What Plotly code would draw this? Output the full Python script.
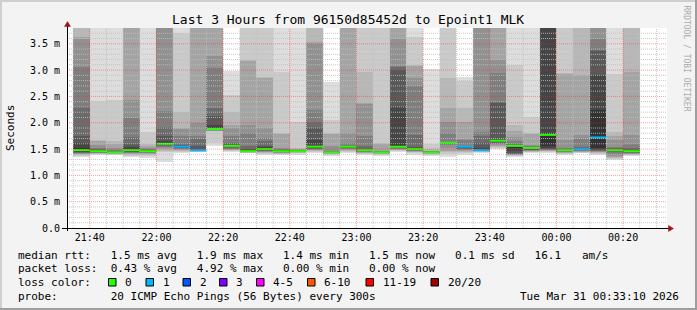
import plotly.graph_objects as go
from datetime import datetime, timedelta

# ---------------- data ----------------
title_text = "Last 3 Hours from 96150d85452d to Epoint1 MLK"
first_interval = "2026-03-30 21:35:00"   # start of first 5-minute interval
step_seconds = 300
view_start = "2026-03-30 21:33:10"
view_end = "2026-03-31 00:33:10"

median_rtt = [1.48, 1.46, 1.44, 1.48, 1.46, 1.60, 1.545, 1.48, 1.88, 1.56,
              1.46, 1.50, 1.46, 1.46, 1.545, 1.44, 1.545, 1.48, 1.44, 1.545,
              1.50, 1.44, 1.62, 1.545, 1.48, 1.66, 1.56, 1.52, 1.77, 1.48,
              1.50, 1.72, 1.48, 1.46]
loss_count = [0, 0, 0, 0, 0, 0, 1, 1, 0, 0,
              0, 0, 0, 0, 0, 0, 0, 0, 0, 0,
              0, 0, 0, 1, 1, 0, 0, 0, 0, 0,
              1, 1, 0, 0]

# upper smoke edges: sorted pings p20 .. p11 (ms)
smoke_upper = [
    [3.9, 3.9, 3.9, 3.62, 3.60, 3.06, 2.29, 1.75, 1.62, 1.52],
    [3.9, 2.42, 1.67, 1.66, 1.58, 1.52, 1.50, 1.49, 1.48, 1.47],
    [3.9, 2.43, 1.65, 1.60, 1.52, 1.49, 1.47, 1.46, 1.45, 1.445],
    [3.9, 3.9, 3.9, 3.9, 2.43, 2.09, 1.73, 1.60, 1.53, 1.50],
    [3.9, 1.82, 1.60, 1.55, 1.52, 1.50, 1.49, 1.48, 1.47, 1.465],
    [3.9, 3.9, 3.9, 3.9, 3.9, 2.22, 1.92, 1.75, 1.65, 1.62],
    [3.9, 3.7, 2.21, 1.90, 1.88, 1.75, 1.60, 1.57, 1.56, 1.55],
    [3.9, 3.9, 3.9, 3.9, 2.00, 1.75, 1.70, 1.55, 1.51, 1.49],
    [3.9, 3.9, 3.9, 3.9, 3.27, 3.04, 2.28, 2.12, 1.96, 1.90],
    [2.99, 2.53, 2.20, 1.95, 1.90, 1.75, 1.62, 1.60, 1.58, 1.565],
    [3.9, 3.9, 3.20, 3.18, 1.96, 1.80, 1.56, 1.50, 1.48, 1.47],
    [3.9, 3.9, 2.87, 2.85, 1.90, 1.71, 1.65, 1.56, 1.53, 1.51],
    [3.9, 2.97, 1.80, 1.78, 1.52, 1.50, 1.49, 1.48, 1.47, 1.465],
    [3.9, 2.02, 1.52, 1.50, 1.49, 1.48, 1.475, 1.47, 1.465, 1.462],
    [3.9, 3.9, 3.9, 3.53, 3.50, 2.24, 2.02, 1.90, 1.67, 1.56],
    [2.78, 2.05, 1.80, 1.78, 1.55, 1.47, 1.455, 1.45, 1.445, 1.442],
    [3.9, 3.9, 3.9, 3.9, 1.80, 1.62, 1.58, 1.565, 1.555, 1.55],
    [3.9, 3.9, 2.97, 2.37, 2.35, 1.75, 1.55, 1.51, 1.495, 1.485],
    [3.9, 3.9, 1.61, 1.59, 1.47, 1.46, 1.455, 1.45, 1.445, 1.442],
    [3.9, 3.9, 3.9, 3.9, 3.60, 3.07, 3.05, 3.00, 2.30, 1.60],
    [3.9, 3.63, 3.10, 3.08, 2.85, 2.70, 1.77, 1.545, 1.52, 1.51],
    [3.03, 1.60, 1.50, 1.47, 1.46, 1.455, 1.45, 1.447, 1.445, 1.442],
    [3.9, 3.9, 2.85, 2.28, 2.02, 1.80, 1.64, 1.63, 1.625, 1.622],
    [2.87, 2.80, 2.28, 2.02, 1.70, 1.67, 1.56, 1.555, 1.55, 1.548],
    [3.9, 3.9, 3.9, 3.9, 3.9, 1.83, 1.75, 1.61, 1.52, 1.50],
    [3.9, 3.9, 3.9, 3.9, 3.19, 2.95, 2.40, 2.38, 1.70, 1.67],
    [3.9, 3.10, 1.96, 1.85, 1.72, 1.65, 1.60, 1.58, 1.57, 1.565],
    [3.9, 2.11, 1.80, 1.78, 1.57, 1.55, 1.54, 1.53, 1.525, 1.522],
    [3.9, 3.9, 3.9, 3.9, 3.9, 3.9, 3.9, 3.9, 3.9, 1.80],
    [3.9, 3.9, 2.94, 2.92, 1.67, 1.52, 1.50, 1.49, 1.485, 1.482],
    [3.9, 3.9, 3.9, 2.90, 1.77, 1.70, 1.545, 1.52, 1.51, 1.505],
    [3.9, 3.9, 3.9, 3.9, 3.9, 3.60, 3.38, 3.37, 2.90, 2.24],
    [3.9, 2.92, 1.83, 1.75, 1.67, 1.545, 1.52, 1.50, 1.49, 1.485],
    [3.9, 3.9, 3.9, 2.97, 1.77, 1.60, 1.52, 1.49, 1.47, 1.465],
]
# lower smoke edges: sorted pings p1 .. p10 (ms)
smoke_lower = [
    [1.34, 1.36, 1.38, 1.40, 1.41, 1.42, 1.43, 1.44, 1.45, 1.46],
    [1.39, 1.40, 1.41, 1.42, 1.43, 1.43, 1.44, 1.44, 1.45, 1.45],
    [1.38, 1.39, 1.40, 1.41, 1.42, 1.42, 1.43, 1.43, 1.44, 1.44],
    [1.34, 1.36, 1.38, 1.40, 1.42, 1.43, 1.44, 1.45, 1.46, 1.47],
    [1.33, 1.36, 1.39, 1.41, 1.42, 1.43, 1.44, 1.45, 1.45, 1.46],
    [1.26, 1.44, 1.47, 1.50, 1.52, 1.54, 1.56, 1.57, 1.58, 1.59],
    [1.42, 1.44, 1.46, 1.48, 1.50, 1.51, 1.52, 1.53, 1.535, 1.54],
    [1.44, 1.45, 1.45, 1.46, 1.46, 1.47, 1.47, 1.47, 1.475, 1.48],
    [1.55, 1.61, 1.84, 1.845, 1.85, 1.855, 1.86, 1.865, 1.87, 1.875],
    [1.44, 1.46, 1.48, 1.49, 1.50, 1.51, 1.52, 1.53, 1.54, 1.55],
    [1.42, 1.43, 1.43, 1.44, 1.44, 1.45, 1.45, 1.455, 1.455, 1.46],
    [1.39, 1.41, 1.43, 1.44, 1.45, 1.46, 1.47, 1.48, 1.49, 1.495],
    [1.39, 1.40, 1.41, 1.42, 1.43, 1.44, 1.44, 1.45, 1.45, 1.455],
    [1.39, 1.42, 1.43, 1.44, 1.445, 1.45, 1.45, 1.455, 1.455, 1.458],
    [1.42, 1.44, 1.46, 1.48, 1.49, 1.50, 1.51, 1.52, 1.53, 1.535],
    [1.36, 1.38, 1.40, 1.41, 1.42, 1.43, 1.43, 1.435, 1.435, 1.44],
    [1.42, 1.44, 1.46, 1.48, 1.50, 1.51, 1.52, 1.53, 1.535, 1.54],
    [1.39, 1.41, 1.42, 1.43, 1.44, 1.45, 1.46, 1.465, 1.47, 1.475],
    [1.36, 1.38, 1.40, 1.41, 1.42, 1.43, 1.43, 1.435, 1.435, 1.44],
    [1.44, 1.46, 1.48, 1.49, 1.50, 1.51, 1.52, 1.53, 1.535, 1.54],
    [1.39, 1.42, 1.44, 1.45, 1.46, 1.47, 1.48, 1.485, 1.49, 1.495],
    [1.36, 1.38, 1.40, 1.41, 1.42, 1.43, 1.43, 1.435, 1.435, 1.438],
    [1.35, 1.40, 1.45, 1.46, 1.52, 1.58, 1.60, 1.61, 1.615, 1.618],
    [1.39, 1.42, 1.44, 1.46, 1.48, 1.50, 1.51, 1.52, 1.53, 1.54],
    [1.42, 1.44, 1.45, 1.46, 1.465, 1.47, 1.47, 1.475, 1.475, 1.478],
    [1.50, 1.52, 1.54, 1.56, 1.58, 1.60, 1.62, 1.64, 1.65, 1.655],
    [1.35, 1.37, 1.38, 1.39, 1.395, 1.40, 1.41, 1.43, 1.47, 1.52],
    [1.42, 1.44, 1.45, 1.46, 1.47, 1.48, 1.49, 1.50, 1.51, 1.515],
    [1.42, 1.44, 1.46, 1.47, 1.48, 1.49, 1.50, 1.51, 1.52, 1.55],
    [1.39, 1.41, 1.42, 1.43, 1.44, 1.45, 1.46, 1.47, 1.475, 1.478],
    [1.42, 1.43, 1.44, 1.45, 1.46, 1.47, 1.48, 1.485, 1.49, 1.495],
    [1.39, 1.41, 1.43, 1.44, 1.45, 1.46, 1.47, 1.48, 1.50, 1.52],
    [1.29, 1.31, 1.33, 1.34, 1.36, 1.40, 1.44, 1.46, 1.47, 1.475],
    [1.36, 1.38, 1.39, 1.40, 1.41, 1.42, 1.43, 1.44, 1.45, 1.455],
]

y_tick_vals = [0.0, 0.5, 1.0, 1.5, 2.0, 2.5, 3.0, 3.5]
y_tick_text = ["0.0", "0.5 m", "1.0 m", "1.5 m", "2.0 m", "2.5 m", "3.0 m", "3.5 m"]
x_tick_vals = ["2026-03-30 21:40", "2026-03-30 22:00", "2026-03-30 22:20",
               "2026-03-30 22:40", "2026-03-30 23:00", "2026-03-30 23:20",
               "2026-03-30 23:40", "2026-03-31 00:00", "2026-03-31 00:20"]
x_tick_text = ["21:40", "22:00", "22:20", "22:40", "23:00", "23:20", "23:40", "00:00", "00:20"]
y_minor_step = 0.1
x_minor_minutes = 5

loss_legend = [("0", "#26ff00"), ("1", "#00b8ff"), ("2", "#0059ff"), ("3", "#7e00ff"),
               ("4-5", "#ff00ff"), ("6-10", "#ff5500"), ("11-19", "#ff0000"), ("20/20", "#a10000")]
loss_color_of = {0: "#26ff00", 1: "#00b8ff", 2: "#0059ff", 3: "#7e00ff"}

stats_line1 = "median rtt:   1.5 ms avg   1.9 ms max   1.4 ms min   1.5 ms now   0.1 ms sd   16.1"
stats_line1_unit = "am/s"
stats_line2 = "packet loss:  0.43 % avg   4.92 % max   0.00 % min   0.00 % now"
probe_line = "probe:        20 ICMP Echo Pings (56 Bytes) every 300s"
stamp_text = "Tue Mar 31 00:33:10 2026"

# ---------------- geometry helpers ----------------
W, H = 697, 310
L_, R_, T_, B_ = 67, 30, 28, 82
PW, PH = W - L_ - R_, H - T_ - B_
FONT = "DejaVu Sans Mono"


def px(x):
    return (x - L_) / PW


def py(y):
    return (H - B_ - y) / PH


t0 = datetime.strptime(first_interval, "%Y-%m-%d %H:%M:%S")
n = len(median_rtt)
starts = [t0 + timedelta(seconds=step_seconds * k) for k in range(n)]
ends = [s + timedelta(seconds=step_seconds) for s in starts]
centers = [s + timedelta(seconds=step_seconds / 2) for s in starts]

fig = go.Figure()

# smoke bands (outer light -> inner dark)
half = 10
for i in range(half):
    g = int(190 / half * (half - (i + 1))) + 50
    col = "rgb(%d,%d,%d)" % (g, g, g)
    bases = [smoke_lower[k][i] for k in range(n)]
    heights = [smoke_upper[k][i] - smoke_lower[k][i] for k in range(n)]
    fig.add_trace(go.Bar(x=centers, y=heights, base=bases,
                         width=[step_seconds * 1000] * n,
                         marker=dict(color=col, line=dict(width=0)),
                         hoverinfo="skip", showlegend=False))

# median line, coloured by loss
for lc in sorted(set(loss_count)):
    xs, ys = [], []
    for k in range(n):
        if loss_count[k] == lc:
            xs += [starts[k], ends[k], None]
            ys += [median_rtt[k], median_rtt[k], None]
    fig.add_trace(go.Scatter(x=xs, y=ys, mode="lines",
                             line=dict(color=loss_color_of[lc], width=2),
                             hoverinfo="skip", showlegend=False))

shapes = []
# grid (above smoke, like rrdtool)
minor_grey = "rgba(190,190,190,0.85)"
major_red = "rgba(255,40,40,0.45)"
k = 1
while k * y_minor_step < 3.8 - 1e-9:
    v = round(k * y_minor_step, 3)
    is_major = abs(v / 0.5 - round(v / 0.5)) < 1e-9
    shapes.append(dict(type="line", xref="paper", yref="y", x0=0, x1=1, y0=v, y1=v,
                       line=dict(color=major_red if is_major else minor_grey, width=1, dash="1px,1px"),
                       layer="above"))
    k += 1
vs = datetime.strptime(view_start, "%Y-%m-%d %H:%M:%S")
ve = datetime.strptime(view_end, "%Y-%m-%d %H:%M:%S")
major_set = set(x_tick_vals)
t = vs.replace(second=0) + timedelta(minutes=(x_minor_minutes - vs.minute % x_minor_minutes) % x_minor_minutes)
while t < ve:
    key = t.strftime("%Y-%m-%d %H:%M")
    shapes.append(dict(type="line", xref="x", yref="paper", x0=t, x1=t, y0=0, y1=1,
                       line=dict(color=major_red if key in major_set else minor_grey, width=1, dash="1px,1px"),
                       layer="above"))
    t += timedelta(minutes=x_minor_minutes)

# axes lines and arrows
shapes.append(dict(type="line", xref="paper", yref="paper", x0=px(62), x1=px(669), y0=py(228.5), y1=py(228.5),
                   line=dict(color="black", width=1), layer="above"))
shapes.append(dict(type="line", xref="paper", yref="paper", x0=px(67.5), x1=px(67.5), y0=py(231), y1=py(24),
                   line=dict(color="black", width=1), layer="above"))
shapes.append(dict(type="path", xref="paper", yref="paper",
                   path="M %f,%f L %f,%f L %f,%f Z" % (px(64.5), py(26.5), px(70.5), py(26.5), px(67.5), py(21.5)),
                   fillcolor="#a01010", line=dict(color="#a01010", width=0.5), layer="above"))
shapes.append(dict(type="path", xref="paper", yref="paper",
                   path="M %f,%f L %f,%f L %f,%f Z" % (px(668.5), py(225.5), px(668.5), py(231.5), px(673.5), py(228.5)),
                   fillcolor="#a01010", line=dict(color="#a01010", width=0.5), layer="above"))

# frame (3d shading)
shapes.append(dict(type="rect", xref="paper", yref="paper", x0=px(0), x1=px(697), y0=py(0), y1=py(2),
                   fillcolor="#cfcfcf", line=dict(width=0), layer="below"))
shapes.append(dict(type="rect", xref="paper", yref="paper", x0=px(0), x1=px(2), y0=py(0), y1=py(310),
                   fillcolor="#cfcfcf", line=dict(width=0), layer="below"))
shapes.append(dict(type="rect", xref="paper", yref="paper", x0=px(695), x1=px(697), y0=py(0), y1=py(310),
                   fillcolor="#9e9e9e", line=dict(width=0), layer="below"))
shapes.append(dict(type="rect", xref="paper", yref="paper", x0=px(0), x1=px(697), y0=py(308), y1=py(310),
                   fillcolor="#9e9e9e", line=dict(width=0), layer="below"))

# loss colour legend boxes
box_x = [108.5, 146, 183, 219.5, 256.5, 307.5, 366, 431]
annotations = []
for (lab, colr), bx in zip(loss_legend, box_x):
    shapes.append(dict(type="rect", xref="paper", yref="paper",
                       x0=px(bx), x1=px(bx + 7.5), y0=py(278.5), y1=py(286),
                       fillcolor=colr, line=dict(color="black", width=1)))
    annotations.append(dict(text=lab, x=px(bx + 14.5), y=py(282.5), xref="paper", yref="paper",
                            xanchor="left", yanchor="middle", showarrow=False,
                            font=dict(family=FONT, size=11, color="black")))


def txt(s, x, y, anchor="left", size=11, color="black", angle=0):
    annotations.append(dict(text=s, x=px(x), y=py(y), xref="paper", yref="paper",
                            xanchor=anchor, yanchor="middle", showarrow=False, textangle=angle,
                            font=dict(family=FONT, size=size, color=color)))


txt(title_text, 347.5, 19, anchor="center", size=13)
txt("Seconds", 10, 128, anchor="center", size=11, angle=-90)
txt("RRDTOOL / TOBI OETIKER", 686.5, 58, anchor="center", size=8, color="#aaaaaa", angle=90)
txt(stats_line1, 15.5, 255)
txt(stats_line1_unit, 580, 255)
txt(stats_line2, 15.5, 268.5)
txt("loss color:", 15.5, 282.5)
txt(probe_line, 15.5, 296)
txt(stamp_text, 680.5, 296, anchor="right")

fig.update_layout(
    width=W, height=H,
    margin=dict(l=L_, r=R_, t=T_, b=B_, pad=0),
    paper_bgcolor="#f3f3f3", plot_bgcolor="white",
    barmode="overlay", bargap=0, showlegend=False,
    shapes=shapes, annotations=annotations,
    xaxis=dict(type="date", range=[view_start, view_end], showgrid=False, zeroline=False,
               tickvals=x_tick_vals, ticktext=x_tick_text, ticks="", showline=False,
               tickfont=dict(family=FONT, size=10, color="black"), ticklabelstandoff=2),
    yaxis=dict(range=[0, 3.8], showgrid=False, zeroline=False, tickvals=y_tick_vals,
               ticktext=y_tick_text, ticks="", showline=False,
               tickfont=dict(family=FONT, size=10, color="black"), ticklabelstandoff=6),
)

fig.write_html("out.html")
